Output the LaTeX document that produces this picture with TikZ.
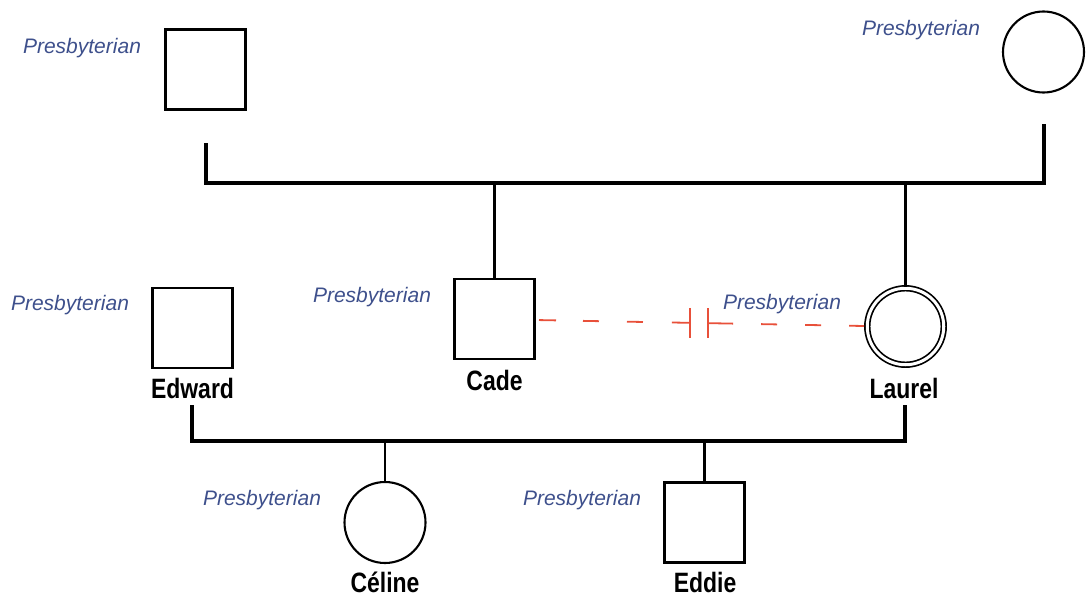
\documentclass[tikz,border=0pt]{standalone}
\usepackage{fontspec}
\usetikzlibrary{calc}
\setmainfont{Liberation Sans}
\newfontfamily\namefont[FakeStretch=0.82]{Liberation Sans}
\begin{document}
\begin{tikzpicture}[x=1pt,y=-1pt,
  male/.style={draw, line width=2.1pt, rectangle, minimum size=80pt, inner sep=0pt},
  female/.style={draw, line width=2.1pt, circle, minimum size=81pt, inner sep=0pt},
  marriage/.style={line width=3.8pt},
  descent/.style={line width=2.6pt},
  faith/.style={font=\fontsize{21}{25}\selectfont\itshape, text=faithblue, anchor=base},
  person/.style={font=\namefont\bfseries\fontsize{28}{31}\selectfont, anchor=base},
  split/.style={draw=splitred, line width=1.8pt}
]
\definecolor{faithblue}{RGB}{62,80,140}
\definecolor{splitred}{RGB}{232,80,58}
\useasboundingbox (0,0) rectangle (1087,597);

% grandparents
\node[male] (gf) at (205.5,69.5) {};
\node[female] (gm) at (1043.5,52) {};
\node[faith] (fgf) at (82,53) {Presbyterian};
\node[faith] (fgm) at (921,35) {Presbyterian};

% second generation
\node[male] (edward) at (192.5,328) {};
\node[male] (cade) at (494.5,319) {};
\node[female, double, double distance=3pt, line width=1.7pt, minimum size=76.5pt] (laurel) at (905.5,326.5) {};
\node[person] (nedward) at (192.5,398) {Edward};
\node[person] (ncade) at (494.5,390) {Cade};
\node[person] (nlaurel) at (904,398) {Laurel};
\node[faith] (fedward) at (70,310) {Presbyterian};
\node[faith] (fcade) at (372,302) {Presbyterian};
\node[faith] (flaurel) at (782,309) {Presbyterian};

% third generation
\node[female, minimum size=81pt] (celine) at (385,522.5) {};
\node[male] (eddie) at (704.5,522.5) {};
\node[person] (nceline) at (385,592) {Céline};
\node[person] (neddie) at (705,592) {Eddie};
\node[faith] (fceline) at (262,505) {Presbyterian};
\node[faith] (feddie) at (582,505) {Presbyterian};

% union of the grandparents
\coordinate (ul) at (206,143);
\coordinate (ur) at (1044,124);
\coordinate (ulb) at (206,183);
\coordinate (urb) at (1044,183);
\draw[marriage] (ul) -- (ulb) -- (urb) -- (ur);
\draw[descent] (cade.north |- ulb) -- (cade.north);
\draw[descent] (laurel.north |- ulb) -- (laurel.north);

% union of Edward and Laurel
\coordinate (ll) at (192,405);
\coordinate (lr) at (905,405);
\coordinate (llb) at (192,441);
\coordinate (lrb) at (905,441);
\draw[marriage] (ll) -- (llb) -- (lrb) -- (lr);
\draw[descent] (celine.north |- llb) -- (celine.north);
\draw[descent] (eddie.north |- llb) -- (eddie.north);

% divorced couple Cade -- Laurel
\coordinate (cd) at (535,320);
\coordinate (ld) at (864,326);
\coordinate (d1) at ($(cd)!0.471!(ld)$);
\coordinate (d2) at ($(cd)!0.526!(ld)$);
\draw[split, dash pattern=on 17pt off 27pt on 16pt off 28pt on 16pt off 29pt on 19pt off 4pt, dash phase=152pt] (cd) -- (d1);
\draw[split, dash pattern=on 25pt off 28pt on 16pt off 28pt on 16pt off 28pt on 20pt off 20pt] (d2) -- (ld);
\draw[split] ($(d1)+(0,-15)$) -- ($(d1)+(0,15)$);
\draw[split] ($(d2)+(0,-15)$) -- ($(d2)+(0,15)$);
\end{tikzpicture}
\end{document}
